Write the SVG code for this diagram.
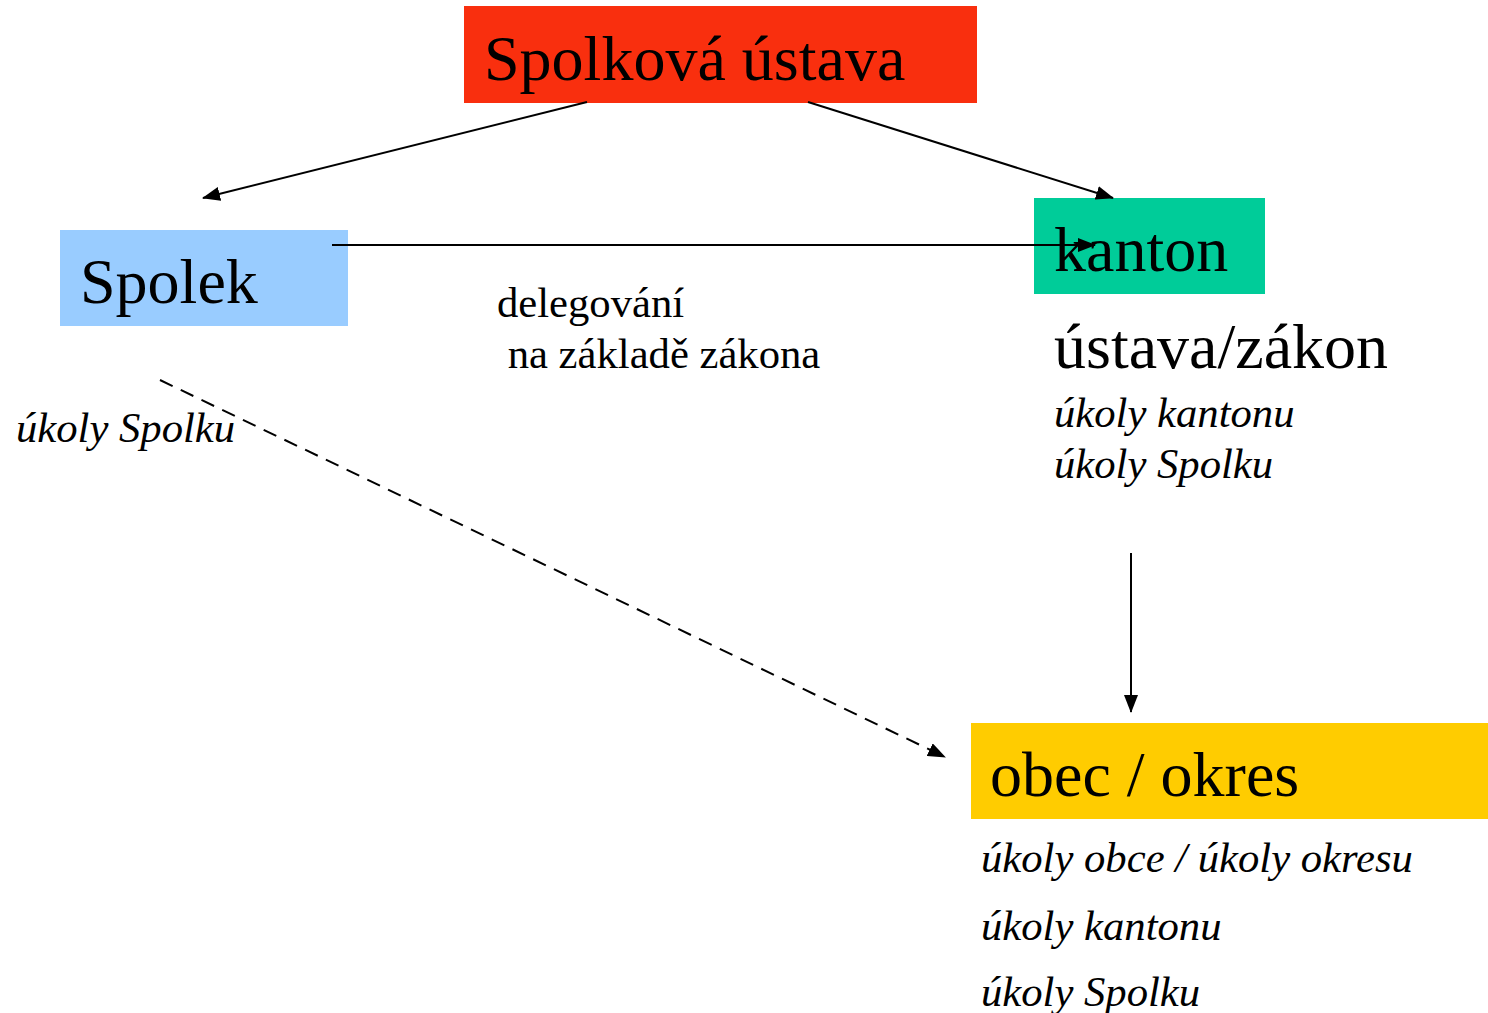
<svg xmlns="http://www.w3.org/2000/svg" width="1488" height="1013" viewBox="0 0 1488 1013">
<style>
.big{font-family:"Liberation Serif","Times New Roman",serif;font-size:64px;fill:#000}
.mid{font-family:"Liberation Serif","Times New Roman",serif;font-size:42.67px;fill:#000}
.it{font-family:"Liberation Serif","Times New Roman",serif;font-size:42.67px;font-style:italic;fill:#000}
.con{stroke:#000;stroke-width:2;fill:none}
</style>
<defs>
<marker id="ah" viewBox="0 0 18 14" refX="17" refY="7" markerWidth="18" markerHeight="14" markerUnits="userSpaceOnUse" orient="auto">
<path d="M0,0 L18,7 L0,14 Z" fill="#000"/>
</marker>
</defs>
<rect width="1488" height="1013" fill="#fff"/>
<g id="spolkova-ustava">
<rect x="464" y="6" width="513" height="97" fill="#F92F0E"/>
<text class="big" x="484" y="80">Spolková ústava</text>
</g>
<g id="spolek">
<rect x="60" y="230" width="288" height="96" fill="#99CCFF"/>
<text class="big" x="80" y="303">Spolek</text>
<text class="it" x="16" y="442">úkoly Spolku</text>
</g>
<g id="kanton">
<rect x="1034" y="198" width="231" height="96" fill="#00CC99"/>
<text class="big" x="1054" y="271">kanton</text>
<text class="big" x="1054" y="368">ústava/zákon</text>
<text class="it" x="1054" y="427">úkoly kantonu</text>
<text class="it" x="1054" y="478">úkoly Spolku</text>
</g>
<g id="obec-okres">
<rect x="971" y="723" width="517" height="96" fill="#FFCC00"/>
<text class="big" x="990" y="796">obec / okres</text>
<text class="it" x="981" y="872">úkoly obce / úkoly okresu</text>
<text class="it" x="981" y="940">úkoly kantonu</text>
<text class="it" x="981" y="1006">úkoly Spolku</text>
</g>
<g id="delegovani-label">
<text class="mid" x="497" y="317">delegování</text>
<text class="mid" x="497" y="368" xml:space="preserve"> na základě zákona</text>
</g>
<g id="connectors">
<line class="con" x1="587" y1="102" x2="203" y2="198" marker-end="url(#ah)"/>
<line class="con" x1="808" y1="102" x2="1113" y2="198" marker-end="url(#ah)"/>
<line class="con" x1="332" y1="245" x2="1095" y2="245" marker-end="url(#ah)"/>
<line class="con" x1="1131" y1="553" x2="1131" y2="712" marker-end="url(#ah)"/>
<line class="con" x1="160" y1="380" x2="945" y2="757" stroke-dasharray="14,9" marker-end="url(#ah)"/>
</g>
</svg>
